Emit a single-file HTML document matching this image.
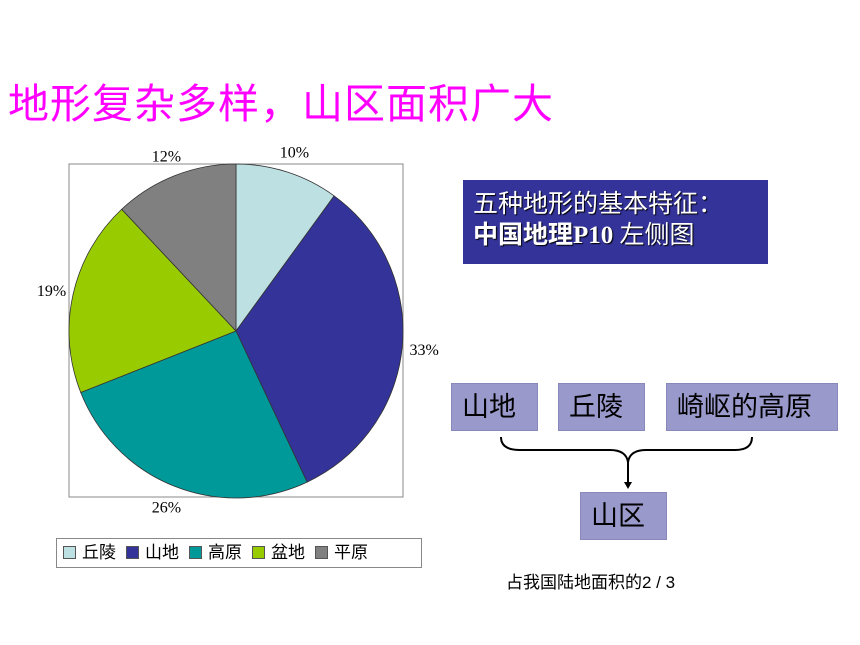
<!DOCTYPE html>
<html><head><meta charset="utf-8"><style>
body{margin:0;width:860px;height:645px;background:#fff;position:relative;overflow:hidden;font-family:"Liberation Serif","Noto Serif CJK SC","Noto Sans CJK SC",serif}
.abs{position:absolute}
.box{position:absolute;background:#9999cc;border:1px solid #8888bb;font-size:27px;color:#000;line-height:46px;padding-left:10px;box-sizing:border-box;font-family:"Liberation Sans","Noto Sans CJK SC",sans-serif}
</style></head><body>
<div class="abs" style="left:8px;top:70px;font-size:41px;color:#ff00ff;font-family:'Liberation Sans','Noto Sans CJK SC',sans-serif;white-space:nowrap;letter-spacing:1px">地形复杂多样，山区面积广大</div>
<svg class="abs" style="left:0;top:0" width="860" height="645">
<rect x="69" y="164" width="334" height="333" fill="#fff" stroke="#888"/>
<g id="slices"></g>
<g id="labels" font-family="Liberation Serif,serif" font-size="16" fill="#000"></g>
</svg>
<div class="abs" style="left:56px;top:538px;width:366px;height:30px;border:1px solid #888;box-sizing:border-box;font-family:'Liberation Sans','Noto Sans CJK SC',sans-serif;font-size:17px;line-height:28px;white-space:nowrap;padding-left:6px" id="legend"></div>
<div class="abs" style="left:463px;top:180px;width:305px;height:84px;background:#333399;color:#fff;font-size:25px;line-height:31px;padding:9px 0 0 10px;box-sizing:border-box;font-family:'Liberation Serif','Noto Sans CJK SC',serif;text-shadow:1px 1px 1px #000">五种地形的基本特征：<br><b>中国地理P10</b> 左侧图</div>
<div class="box" style="left:451px;top:383px;width:87px;height:48px">山地</div>
<div class="box" style="left:558px;top:383px;width:87px;height:48px">丘陵</div>
<div class="box" style="left:666px;top:383px;width:172px;height:48px">崎岖的高原</div>
<svg class="abs" style="left:0;top:0" width="860" height="645">
<path d="M501 437 Q501 450 520 450 L610 450 Q626 450 628 462 Q630 450 646 450 L735 450 Q752 450 752 437" fill="none" stroke="#000" stroke-width="2"/>
<line x1="628" y1="462" x2="628" y2="484" stroke="#000" stroke-width="2"/>
<path d="M624 482 L628 489 L632 482 Z" fill="#000"/>
</svg>
<div class="box" style="left:580px;top:492px;width:87px;height:48px">山区</div>
<div class="abs" style="left:506px;top:568px;font-size:17px;font-family:'Liberation Sans','Noto Sans CJK SC',sans-serif;white-space:nowrap">占我国陆地面积的2 / 3</div>
<script>
const categories=["丘陵","山地","高原","盆地","平原"];
const values=[10,33,26,19,12];
const labels=["10%","33%","26%","19%","12%"];
const colors=["#bde0e3","#333399","#009999","#99cc00","#808080"];
const cx=236,cy=331,r=167;
const ns="http://www.w3.org/2000/svg";
const sg=document.getElementById('slices'),lg=document.getElementById('labels');
const tot=values.reduce((a,b)=>a+b,0);
let a0=0;
function pt(a,rr){return [cx+rr*Math.sin(a),cy-rr*Math.cos(a)];}
values.forEach((v,i)=>{
 const a1=a0+v/tot*2*Math.PI;
 const p0=pt(a0,r),p1=pt(a1,r);
 const p=document.createElementNS(ns,'path');
 p.setAttribute('d',`M${cx} ${cy} L${p0[0]} ${p0[1]} A${r} ${r} 0 ${a1-a0>Math.PI?1:0} 1 ${p1[0]} ${p1[1]} Z`);
 p.setAttribute('fill',colors[i]);p.setAttribute('stroke','#333');p.setAttribute('stroke-width','0.8');
 
 
 sg.appendChild(p);
 const am=(a0+a1)/2;const lp=pt(am,r+22);
 const t=document.createElementNS(ns,'text');
 t.setAttribute('x',lp[0]);t.setAttribute('y',lp[1]+6);t.setAttribute('text-anchor','middle');
 t.textContent=labels[i];
 
 
 lg.appendChild(t);
 a0=a1;
});
const L=document.getElementById('legend');
categories.forEach((c,i)=>{
 const s=document.createElement('span');
 s.style.marginRight='10px';
 s.innerHTML=`<span style="display:inline-block;width:11px;height:11px;background:${colors[i]};border:1px solid #555;margin-right:6px;vertical-align:-1px"></span>${c}`;
 
 
 L.appendChild(s);
});
</script>
</body></html>
